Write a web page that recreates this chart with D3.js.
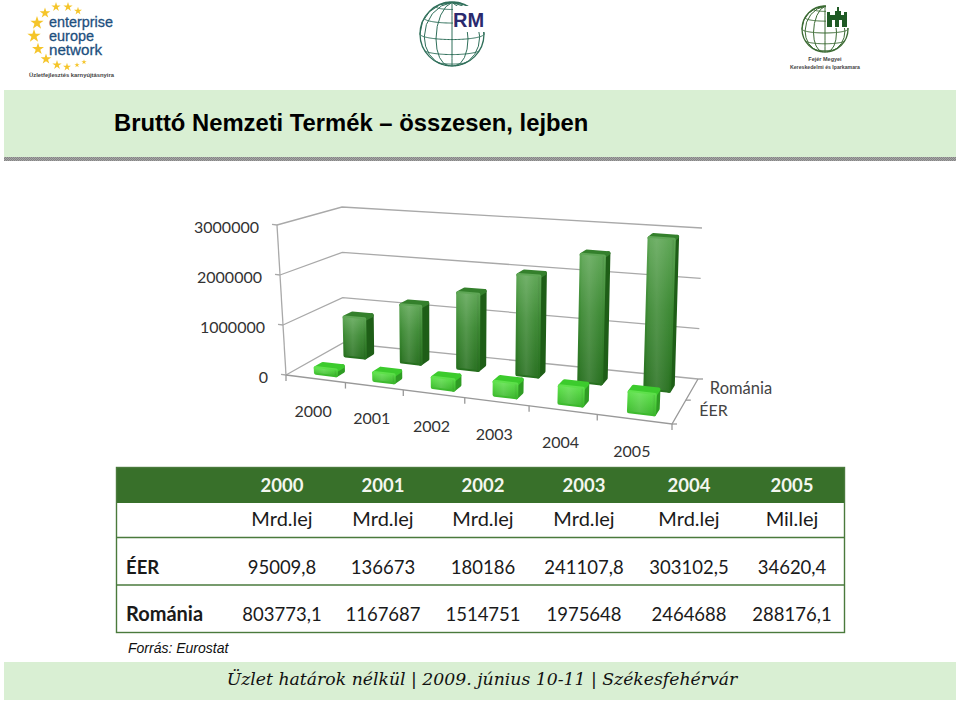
<!DOCTYPE html>
<html><head><meta charset="utf-8">
<script src="https://cdnjs.cloudflare.com/ajax/libs/d3/7.8.5/d3.min.js"></script>
<style>html,body{margin:0;padding:0;background:#fff}svg{display:block}</style>
</head><body><svg id="c" width="960" height="701"></svg>
<script>
const years = ["2000","2001","2002","2003","2004","2005"];
const seriesNames = ["ÉER","Románia"];
const eer = [95009.8,136673,180186,241107.8,303102.5,346204];
const romania = [803773.1,1167687,1514751,1975648,2464688,2881761];
const axisTicks = [0,1000000,2000000,3000000];
const units = ["Mrd.lej","Mrd.lej","Mrd.lej","Mrd.lej","Mrd.lej","Mil.lej"];
const eerLabels = ["95009,8","136673","180186","241107,8","303102,5","34620,4"];
const romLabels = ["803773,1","1167687","1514751","1975648","2464688","288176,1"];
const titleText = "Bruttó Nemzeti Termék – összesen, lejben";
const sourceText = "Forrás: Eurostat";
const footerText = "Üzlet határok nélkül | 2009. június 10-11 | Székesfehérvár";

const svg = d3.select("#c");
const defs = svg.append("defs");
const SANS="'Liberation Sans',Arial,sans-serif", LATO="Lato,sans-serif";

// background bands
const hatch = defs.append("pattern").attr("id","hatch").attr("width",2).attr("height",2).attr("patternUnits","userSpaceOnUse");
hatch.append("rect").attr("width",2).attr("height",2).attr("fill","#a6a6a6");
hatch.append("rect").attr("width",1).attr("height",1).attr("fill","#858585");
hatch.append("rect").attr("x",1).attr("y",1).attr("width",1).attr("height",1).attr("fill","#858585");
svg.append("rect").attr("x",4).attr("y",90).attr("width",952).attr("height",67).attr("fill","#d9efd3");
svg.append("rect").attr("x",4).attr("y",157).attr("width",952).attr("height",4).attr("fill","url(#hatch)");
svg.append("rect").attr("x",4).attr("y",662).attr("width",952).attr("height",38).attr("fill","#d9efd3");
svg.append("text").attr("x",114).attr("y",131).attr("font-family",SANS).attr("font-weight","bold").attr("font-size",23.8).attr("fill","#000").text(titleText);
svg.append("text").attr("x",482).attr("y",685).attr("text-anchor","middle").attr("font-family","'DejaVu Serif',serif").attr("font-style","italic").attr("font-size",17.25).attr("fill","#111").text(footerText);
svg.append("text").attr("x",128).attr("y",653).attr("font-family",SANS).attr("font-style","italic").attr("font-size",14).attr("fill","#111").text(sourceText);

// ---- logos
const lg = svg.append("g");
const starsAt = [[45,13,8],[56,7,7],[68,7,7],[78,11,6],[37,23,10],[34,36,10],[38,49,9],[46,59,8],[57,65,7],[67,67,6],[77,65,4],[84,62,4]];
lg.selectAll("path.star").data(starsAt).join("path").attr("class","star")
  .attr("transform",d=>`translate(${d[0]},${d[1]})`)
  .attr("d",d=>d3.symbol(d3.symbolStar,d[2]*d[2]*0.55)()).attr("fill","#f5c52a");
[["enterprise",27,64],["europe",41,45],["network",55,53]].forEach(t=>lg.append("text").attr("x",49).attr("y",t[1]).attr("font-family",SANS).attr("font-size",15).attr("textLength",t[2]).attr("lengthAdjust","spacingAndGlyphs").attr("fill","#1d4f7e").attr("stroke","#1d4f7e").attr("stroke-width",0.3).text(t[0]));
lg.append("text").attr("x",29).attr("y",77).attr("font-family",SANS).attr("font-weight","bold").attr("font-size",6).attr("textLength",85).attr("lengthAdjust","spacingAndGlyphs").attr("fill","#444").text("Üzletfejlesztés karnyújtásnyira");
function globe(cx,cy,r,col,sw,rot){
  const p=d3.geoOrthographic().scale(r).translate([cx,cy]).rotate(rot).clipAngle(90);
  const gp=d3.geoPath(p);
  lg.append("path").datum(d3.geoGraticule().step([30,30])()).attr("d",gp).attr("fill","none").attr("stroke",col).attr("stroke-width",sw);
  lg.append("circle").attr("cx",cx).attr("cy",cy).attr("r",r).attr("fill","none").attr("stroke",col).attr("stroke-width",sw+0.3);
}
globe(452,34,32,"#2f6f5a",1,[0,-10,0]);
lg.append("rect").attr("x",453).attr("y",6).attr("width",32).attr("height",26).attr("fill","#fff");
lg.append("text").attr("x",453).attr("y",27).attr("font-family",SANS).attr("font-weight","bold").attr("font-size",20).attr("fill","#2a2a6e").text("RM");
globe(825,29,23,"#3c6b34",1,[0,-10,0]);
lg.append("rect").attr("x",826).attr("y",4).attr("width",24).attr("height",24).attr("fill","#fff");
[[827,15,20,5],[835,11,6,5],[837,7,2,5],[827,20,5,7],[835,20,4,7],[842,20,5,7],[827,12,3,3],[844,12,3,3]].forEach(r=>
  lg.append("rect").attr("x",r[0]).attr("y",r[1]).attr("width",r[2]).attr("height",r[3]).attr("fill","#1f5a25"));
lg.append("text").attr("x",825).attr("y",61).attr("text-anchor","middle").attr("font-family",SANS).attr("font-weight","bold").attr("font-size",5.5).attr("fill","#444").text("Fejér Megyei");
lg.append("text").attr("x",825).attr("y",69).attr("text-anchor","middle").attr("font-family",SANS).attr("font-weight","bold").attr("font-size",5.5).attr("textLength",70).attr("lengthAdjust","spacingAndGlyphs").attr("fill","#444").text("Kereskedelmi és Iparkamara");

// ---- 3D projection driven by d3 scales
const FL=[286,375],FR=[672,424],BR=[698,379],BL=[343,343];
const dx1=FR[0]-BR[0],dx2=BL[0]-BR[0],sx=FL[0]-FR[0]+BR[0]-BL[0];
const dy1=FR[1]-BR[1],dy2=BL[1]-BR[1],sy=FL[1]-FR[1]+BR[1]-BL[1];
const den=dx1*dy2-dx2*dy1;
const G=(sx*dy2-dx2*sy)/den,H=(dx1*sy-sx*dy1)/den;
const A=FR[0]-FL[0]+G*FR[0],B=BL[0]-FL[0]+H*BL[0],D=FR[1]-FL[1]+G*FR[1],E=BL[1]-FL[1]+H*BL[1];
const uScale=d3.scaleBand().domain(years).range([0,1]);
const uWarp=d3.scaleLinear().domain([0,1/6,2/6,3/6,4/6,5/6,1]).range([0,.1867,.355,.521,.682,.84,1]);
const vScale=d3.scalePoint().domain(seriesNames).range([0.14,0.66]);
const barDepth={"ÉER":0.12,"Románia":0.14};
const zScale=d3.scaleLinear().domain([0,3000000]).range([0,1]);
const hFront=d3.scaleLinear().domain([0,1]).range([150,172]), hBack=d3.scaleLinear().domain([0,1]).range([136,151]);
const lFront=d3.scaleLinear().domain([0,1]).range([-9,8]), lBack=d3.scaleLinear().domain([0,1]).range([-1,4]);
function project(u0,v,val){
  const u=uWarp(u0);
  const w=1/(G*u+H*v+1);
  const x=(A*u+B*v+FL[0])*w,y=(D*u+E*v+FL[1])*w;
  const z=zScale(val);
  const h=hFront(u)*(1-v)+hBack(u)*v, l=lFront(u)*(1-v)+lBack(u)*v;
  return [x+l*z,y-h*z];
}
const chart=svg.append("g");
const GRID="#a9a9a9";
const line=d3.line();
axisTicks.forEach(t=>{
  chart.append("path").attr("d",line([project(0,0,t),project(0,1,t),project(1,1,t)])).attr("fill","none").attr("stroke",GRID).attr("stroke-width",1.3);
  const p=project(0,0,t);
  chart.append("path").attr("d",line([[p[0]-5,p[1]-0.6],p])).attr("stroke",GRID).attr("stroke-width",1.3);
  chart.append("text").attr("x",p[0]-18).attr("y",p[1]+7.5).attr("text-anchor","end").attr("font-family",LATO).attr("font-size",16).attr("fill","#333").text(d3.format("d")(t));
});
chart.append("path").attr("d",line([project(0,0,0),project(0,0,3000000)])).attr("fill","none").attr("stroke",GRID).attr("stroke-width",1.3);
chart.append("path").attr("d",line([project(0,0,0),project(1,0,0),project(1,1,0)])).attr("fill","none").attr("stroke","#999").attr("stroke-width",1.3);
[0].concat(years.map(y=>uScale(y)+uScale.bandwidth())).forEach(u=>{
  const p=project(u,0,0);chart.append("path").attr("d",line([p,[p[0],p[1]+6]])).attr("stroke","#999").attr("stroke-width",1.3);
});
[0,.5,1].forEach(v=>{const p=project(1,v,0);chart.append("path").attr("d",line([p,[p[0]+5,p[1]]])).attr("stroke","#999").attr("stroke-width",1.3);});
years.forEach(y=>{
  const p=project(uScale(y)+uScale.bandwidth()/2,0,0);
  chart.append("text").attr("x",p[0]-2).attr("y",p[1]+38).attr("text-anchor","middle").attr("font-family",LATO).attr("font-size",16).attr("fill","#333").text(y);
});
seriesNames.forEach(s=>{
  const v=vScale(s)+0.08,p=project(1,v,0);
  chart.append("text").attr("x",p[0]+(s=="ÉER"?21:18)).attr("y",p[1]+(s=="ÉER"?3:4)).attr("font-family",LATO).attr("font-size",s=="ÉER"?16:16.5).attr("fill","#444").text(s);
});
function grad(id,stops,horizontal){
  const g=defs.append("linearGradient").attr("id",id).attr("x1",0).attr("y1",0).attr("x2",horizontal?1:0).attr("y2",horizontal?0:1);
  stops.forEach(s=>g.append("stop").attr("offset",s[0]).attr("stop-color",s[1]).attr("stop-opacity",s[2]==null?1:s[2]));
}
grad("darkF",[[0,"#5ea655"],[.45,"#3d8a34"],[1,"#27701f"]]);
grad("lightF",[[0,"#5fe24c"],[1,"#3cb92d"]]);
grad("sheen",[[0,"#fff",.02],[.4,"#fff",.13],[.85,"#fff",.02],[1,"#000",.1]],true);
const pal={ "Románia":{front:"url(#darkF)",side:"#1e5e17",top:"#34802c"}, "ÉER":{front:"url(#lightF)",side:"#2f9c24",top:"#3ccb2d"} };
function bar(name,yr,val){
  const bw=uScale.bandwidth(),u0=uScale(yr)+bw*0.37,u1=uScale(yr)+bw*0.71;
  const v0=vScale(name),v1=v0+barDepth[name];
  const c=pal[name],g=chart.append("g");
  const poly=(pts,f)=>g.append("path").attr("d",line(pts)+"Z").attr("fill",f).attr("stroke",f).attr("stroke-width",4).attr("stroke-linejoin","round");
  const a=project(u0,v0,0),b=project(u1,v0,0),a2=project(u0,v0,val),b2=project(u1,v0,val);
  const d1=project(u1,v1,0),d2=project(u1,v1,val),e2=project(u0,v1,val);
  poly([b,d1,d2,b2],c.side);
  poly([a2,b2,d2,e2],c.top);
  poly([a,b,b2,a2],c.front);
  g.append("path").attr("d",line([a,b,b2,a2])+"Z").attr("fill","url(#sheen)");
}
seriesNames.slice().reverse().forEach(s=>{
  const vals=s=="ÉER"?eer:romania;
  years.forEach((y,i)=>bar(s,y,vals[i]));
});

// ---- table
const T=svg.append("g");
const colX=d3.scalePoint().domain(years).range([282,792]);
const colAdj=[0,-1,-3,-4,-1,0];
const cx=i=>colX(years[i])+colAdj[i];
T.append("rect").attr("x",116).attr("y",467).attr("width",729).attr("height",36).attr("fill","#38702a");
T.append("rect").attr("x",116.5).attr("y",467.5).attr("width",728).attr("height",165).attr("fill","none").attr("stroke","#4a7a3c").attr("stroke-width",1.4);
[537.5,585].forEach(y=>T.append("line").attr("x1",116).attr("x2",845).attr("y1",y).attr("y2",y).attr("stroke","#4a7a3c").attr("stroke-width",1.4));
const cell=(x,y,t,o={})=>T.append("text").attr("x",x).attr("y",y).attr("text-anchor",o.anchor||"middle").attr("font-family",LATO).attr("font-weight",o.bold?"bold":"normal").attr("font-size",o.size||18.5).attr("fill",o.fill||"#1a1a1a").text(t);
years.forEach((y,i)=>{
  cell(cx(i),492,y,{bold:true,fill:"#f3f6ef"});
  cell(cx(i),526,units[i],{size:20});
  cell(cx(i),574,eerLabels[i]);
  cell(cx(i),621,romLabels[i]);
});
cell(126,574,seriesNames[0],{anchor:"start",bold:true});
cell(126,621,seriesNames[1],{anchor:"start",bold:true,size:20});
</script></body></html>
